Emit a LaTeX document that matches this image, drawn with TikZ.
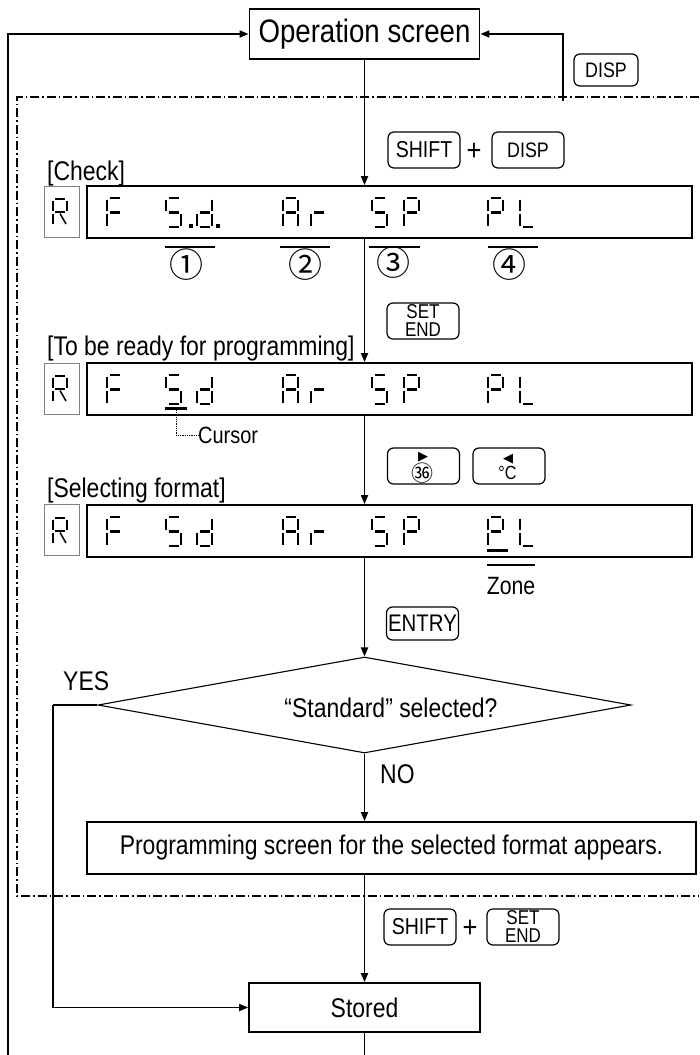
\documentclass[tikz,border=0pt]{standalone}
\usepackage{fontspec}
\setmainfont{Liberation Sans}[FakeStretch=0.85]
\newfontfamily\dvfont{DejaVu Sans}
\newfontfamily\cjkfont{Noto Sans CJK JP}
\usetikzlibrary{shapes.geometric,arrows.meta,calc}
\tikzset{
  flow/.style={line width=1.8pt},
  arr/.style={flow,-{Triangle[length=9pt,width=7pt]}},
  box/.style={draw,line width=1.8pt,inner sep=0pt},
  keybox/.style={draw,line width=1.2pt,rounded corners=6pt,inner sep=0pt,minimum width=72pt,minimum height=36pt,font=\fontsize{23}{23}\selectfont},
  rbox/.style={draw=gray,line width=0.9pt,minimum width=35pt,minimum height=51pt,inner sep=0pt},
  seg/.style={line width=2.7pt},
  rseg/.style={line width=1.5pt},
  lbl/.style={inner sep=0pt,font=\fontsize{27}{27}\selectfont},
  circnum/.style={inner sep=0pt,font=\cjkfont\fontsize{34}{34}\selectfont},
  dashdot/.style={line width=1.1pt,dash pattern=on 9pt off 3pt on 1.5pt off 3pt},
  plus/.style={inner sep=0pt,font=\fontsize{30}{30}\selectfont},
  setend/.style={keybox,align=center,font=\fontsize{20}{18}\selectfont},
}
\newcommand{\lcdA}{\draw[seg] (2.5,0)--(12.5,0);}
\newcommand{\lcdB}{\draw[seg] (15,1.5)--(15,13);}
\newcommand{\lcdC}{\draw[seg] (15,16)--(15,27.5);}
\newcommand{\lcdD}{\draw[seg] (2.5,29)--(12.5,29);}
\newcommand{\lcdE}{\draw[seg] (0,16)--(0,27.5);}
\newcommand{\lcdF}{\draw[seg] (0,1.5)--(0,13);}
\newcommand{\lcdG}{\draw[seg] (2.5,14.5)--(12.5,14.5);}
\newcommand{\lcddig}[3]{\begin{scope}[shift={(#1,#2)}]#3\end{scope}}
\newcommand{\lcdrow}[1]{%
  \lcddig{107}{#1}{\lcdA\lcdF\lcdE\lcdG}%
  \lcddig{166}{#1}{\lcdA\lcdF\lcdG\lcdC\lcdD}%
  \lcddig{197}{#1}{\lcdB\lcdC\lcdD\lcdE\lcdG}%
  \lcddig{283}{#1}{\lcdA\lcdB\lcdC\lcdE\lcdF\lcdG}%
  \lcddig{311}{#1}{\lcdE\lcdG}%
  \lcddig{372}{#1}{\lcdA\lcdF\lcdG\lcdC\lcdD}%
  \lcddig{404}{#1}{\lcdA\lcdB\lcdF\lcdG\lcdE}%
  \lcddig{488}{#1}{\lcdA\lcdB\lcdF\lcdG\lcdE}%
  \lcddig{520}{#1}{\lcdF\lcdE\lcdD}%
}
\newcommand{\rglyph}[1]{\begin{scope}[shift={(53,#1)}]
  \draw[rseg] (2,0)--(12,0);
  \draw[rseg] (0,1.5)--(0,12); \draw[rseg] (14,1.5)--(14,12);
  \draw[rseg] (2,13)--(12,13);
  \draw[rseg] (0,14.5)--(0,25); \draw[rseg] (7,14.5)--(13,25);
\end{scope}}
\begin{document}
\begin{tikzpicture}[x=1pt,y=-1pt]
\useasboundingbox (0,0) rectangle (699,1055);

% top
\node[box,minimum width=230pt,minimum height=50pt,font=\fontsize{32.5}{32.5}\selectfont] (op) at (364.5,34) {Operation screen};
\coordinate (bl) at (8,1055);
\draw[arr] (bl) |- (op.west);
\coordinate (dispstart) at (563,101);
\draw[arr] (dispstart) |- (op.east);
\node[keybox,minimum width=64pt,minimum height=32pt,font=\fontsize{21}{21}\selectfont] (kdisp0) at (606,70) {DISP};

% dash-dot region
\draw[dashdot] (699,97) -- (17,97) -- (17,896) -- (699,896);

% keys 1
\node[keybox] (kshift1) at (424,150) {SHIFT};
\node[plus] (plus1) at (474,152) {+};
\node[keybox,font=\fontsize{21}{21}\selectfont] (kdisp1) at (528,150) {DISP};

% check row
\node[lbl,anchor=base west] (lab1) at (47,180) {[Check]};
\node[rbox] (r1) at (61.5,211.5) {};
\rglyph{199}
\node[box,minimum width=605pt,minimum height=52pt] (lcd1) at (389.5,212) {};
\lcdrow{198}
\fill (189,223.5) rectangle (193,227.5);
\fill (216,223.5) rectangle (220,227.5);
\draw[line width=1.5pt] (165,247) -- (215,247);
\draw[line width=1.5pt] (280,247) -- (330,247);
\draw[line width=1.5pt] (369,247) -- (420,247);
\draw[line width=1.5pt] (488,247) -- (538,247);
\node[circnum] (c1) at (186,265) {①};
\node[circnum] (c2) at (305,265) {②};
\node[circnum] (c3) at (393,263) {③};
\node[circnum] (c4) at (509,265) {④};
\draw[arr] (op.south) -- (op.south |- lcd1.north);

% set/end key
\node[setend] (kset1) at (423,321) {SET\\END};

% programming row
\node[lbl,anchor=base west] (lab2) at (47,355) {[To be ready for programming]};
\node[rbox] (r2) at (61.5,388.5) {};
\rglyph{376}
\node[box,minimum width=605pt,minimum height=52pt] (lcd2) at (389.5,389) {};
\lcdrow{375}
\draw[line width=3pt] (165,408) -- (187,408);
\coordinate (cur1) at (176,410);
\node[inner sep=0pt,anchor=west,font=\fontsize{23.5}{23.5}\selectfont] (cursor) at (198,435) {Cursor};
\draw[densely dotted,line width=0.8pt] (cur1) |- (cursor.west);
\draw[arr] (lcd1.south -| op.south) -- (lcd2.north -| op.south);

% arrow keys
\node[keybox] (kright) at (423.5,466) {};
\node[inner sep=0pt,font=\dvfont\fontsize{13}{13}\selectfont] (tri1) at (423,457.5) {▶};
\node[inner sep=0pt,font=\cjkfont\fontsize{22}{22}\selectfont] (c36) at (422,473) {㊱};
\node[keybox] (kleft) at (509,466) {};
\node[inner sep=0pt,font=\dvfont\fontsize{13}{13}\selectfont] (tri2) at (508,459) {◀};
\node[inner sep=0pt,font=\fontsize{19}{19}\selectfont] (degc) at (507.5,473) {°C};

% selecting row
\node[lbl,anchor=base west] (lab3) at (47,497) {[Selecting format]};
\node[rbox] (r3) at (61.5,530) {};
\rglyph{518}
\node[box,minimum width=605pt,minimum height=52pt] (lcd3) at (389.5,531) {};
\lcdrow{517}
\draw[line width=3pt] (487,550) -- (508,550);
\draw[line width=2.2pt] (487,565) -- (535,565);
\node[inner sep=0pt,font=\fontsize{25}{25}\selectfont] (zone) at (511,586) {Zone};
\draw[arr] (lcd2.south -| op.south) -- (lcd3.north -| op.south);

% entry
\node[keybox,minimum height=33pt,font=\fontsize{24}{24}\selectfont] (kentry) at (422.5,623.5) {ENTRY};

% decision
\node[diamond,draw,line width=1.1pt,aspect=5.55,minimum width=533pt,minimum height=96pt,inner sep=0pt] (dia) at (364.5,705) {};
\node[lbl] (diatext) at (391,708) {“Standard” selected?};
\draw[arr] (lcd3.south -| op.south) -- (dia.north);
\node[lbl,anchor=base west] (yes) at (63,690) {YES};
\node[lbl,anchor=base west] (no) at (380,783) {NO};

\node[box,minimum width=609pt,minimum height=52pt,font=\fontsize{27}{27}\selectfont] (prog) at (391.5,848) {Programming screen for the selected format appears.};
\draw[arr] (dia.south) -- (dia.south |- prog.north);

% bottom keys
\node[keybox] (kshift2) at (420,927) {SHIFT};
\node[plus] (plus2) at (470,929) {+};
\node[setend] (kset2) at (523,927) {SET\\END};

\node[box,minimum width=231pt,minimum height=49pt,font=\fontsize{27}{27}\selectfont] (stored) at (364.5,1007.5) {Stored};
\draw[arr] (prog.south -| dia.south) -- (stored.north);
\coordinate (yesc) at (53,705);
\draw[flow] (dia.west) -- (yesc);
\draw[arr] (yesc) |- (stored.west);
\coordinate (bs) at (364.5,1055);
\draw[flow] (stored.south) -- (bs);
\end{tikzpicture}
\end{document}
